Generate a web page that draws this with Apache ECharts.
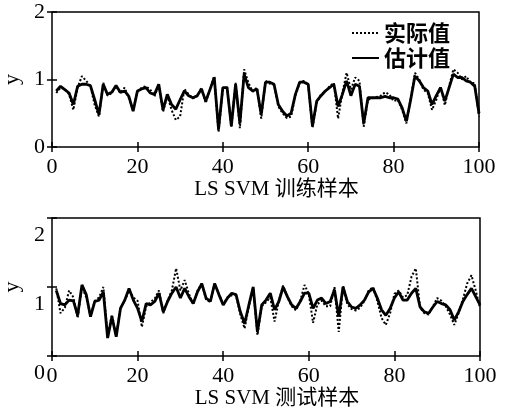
<!DOCTYPE html>
<html>
<head>
<meta charset="utf-8">
<script src="https://cdn.jsdelivr.net/npm/echarts@6/dist/echarts.min.js"></script>
<style>
html, body { margin: 0; padding: 0; background: #fff; }
#chart { width: 509px; height: 417px; }
</style>
</head>
<body>
<div id="chart"></div>
<script>
// 样本序号
const samples = [];
for (let i = 1; i <= 100; i++) samples.push(i);

// 训练样本：实际值 / 估计值
const trainActual = [0.80,0.88,0.86,0.78,0.55,0.88,1.05,0.98,0.90,0.62,
  0.45,0.95,0.76,0.80,0.90,0.80,0.88,0.72,0.55,0.82,
  0.88,0.90,0.85,0.75,0.92,0.52,0.76,0.55,0.40,0.45,
  0.86,0.78,0.72,0.75,0.88,0.65,0.86,1.05,0.22,0.85,
  0.90,0.30,0.95,0.28,1.15,0.95,0.82,0.88,0.42,0.98,
  0.94,0.92,0.60,0.50,0.43,0.45,0.76,0.95,0.98,0.92,
  0.28,0.66,0.78,0.82,0.90,0.95,0.42,0.80,1.10,0.85,
  1.03,0.98,0.30,0.70,0.72,0.74,0.76,0.81,0.78,0.68,
  0.70,0.55,0.35,0.72,1.10,1.00,0.85,0.80,0.55,0.70,
  0.90,0.62,0.90,1.15,1.10,1.00,1.05,0.95,0.95,0.45];
const trainEstimate = [0.83,0.90,0.85,0.80,0.63,0.90,0.93,0.93,0.91,0.70,
  0.48,0.93,0.78,0.81,0.91,0.81,0.83,0.75,0.53,0.83,
  0.86,0.88,0.80,0.78,0.93,0.55,0.78,0.63,0.56,0.70,
  0.83,0.76,0.73,0.76,0.86,0.68,0.85,1.03,0.26,0.88,
  0.88,0.31,0.93,0.35,1.08,0.88,0.83,0.86,0.48,0.96,
  0.96,0.93,0.63,0.53,0.46,0.50,0.78,0.96,0.96,0.93,
  0.31,0.68,0.76,0.83,0.88,0.93,0.60,0.78,0.98,0.76,
  0.93,0.90,0.35,0.73,0.73,0.73,0.73,0.75,0.73,0.73,
  0.71,0.58,0.38,0.70,1.05,0.98,0.88,0.83,0.63,0.76,
  0.88,0.68,0.88,1.08,1.03,1.03,0.98,0.96,0.90,0.50];

// 测试样本：实际值 / 估计值
const testActual = [0.98,0.62,0.70,0.95,0.85,0.55,1.00,0.85,0.58,0.80,
  0.85,1.00,0.30,0.60,0.30,0.70,0.80,0.95,0.85,0.80,
  0.42,0.72,0.78,0.83,0.95,0.62,0.80,0.95,1.27,0.95,
  1.10,0.90,0.75,0.95,1.05,0.82,0.78,1.05,0.90,0.75,
  0.85,0.88,0.88,0.60,0.40,0.72,1.00,0.30,0.72,0.78,
  0.85,0.50,0.80,1.02,0.85,0.72,0.66,0.80,1.03,0.90,
  0.48,0.75,0.80,0.72,0.72,1.00,0.35,1.02,0.75,0.68,
  0.66,0.70,0.80,0.95,1.00,0.80,0.55,0.45,0.62,0.90,
  0.95,0.85,0.88,1.15,1.27,0.70,0.62,0.60,0.72,0.84,
  0.80,0.72,0.60,0.45,0.62,0.82,1.05,1.17,0.95,0.70];
const testEstimate = [0.95,0.76,0.74,0.81,0.80,0.59,1.03,0.89,0.57,0.79,
  0.81,0.93,0.26,0.57,0.28,0.69,0.81,0.98,0.81,0.69,
  0.50,0.76,0.74,0.79,0.91,0.64,0.79,0.91,1.00,0.84,
  0.98,0.86,0.76,0.93,1.05,0.84,0.79,1.05,0.89,0.74,
  0.84,0.91,0.89,0.64,0.47,0.74,1.00,0.35,0.74,0.81,
  0.91,0.67,0.79,1.00,0.86,0.74,0.69,0.79,0.91,0.91,
  0.69,0.81,0.84,0.76,0.79,0.96,0.57,1.00,0.79,0.71,
  0.69,0.74,0.81,0.93,0.98,0.84,0.67,0.59,0.69,0.84,
  0.93,0.81,0.81,0.91,0.98,0.71,0.64,0.62,0.71,0.79,
  0.76,0.74,0.67,0.52,0.64,0.79,0.89,0.98,0.86,0.74];

const seriesNames = ["实际值", "估计值"];
const xTitles = ["LS SVM 训练样本", "LS SVM 测试样本"];

const font = "'Liberation Serif', 'Noto Sans CJK SC', serif";
const black = "#000";

function pairs(vals) {
  return samples.map((s, i) => [s, vals[i]]);
}

function xAxisPair(gi, name) {
  const tick = { show: true, inside: true, length: 5, lineStyle: { color: black, width: 1.5 } };
  return [
    {
      gridIndex: gi, type: "value", min: 0, max: 100, interval: 20,
      axisLine: { show: false }, axisTick: tick, splitLine: { show: false },
      axisLabel: { color: black, fontFamily: font, fontSize: 22, margin: 9 },
      name: name, nameLocation: "middle", nameGap: gi === 0 ? 32 : 29,
      nameTextStyle: { color: black, fontFamily: font, fontSize: 21, padding: [0, 0, 0, 22] },
    },
    {
      gridIndex: gi, type: "value", min: 0, max: 100, interval: 20, position: "top",
      axisLine: { show: false }, axisTick: tick, axisLabel: { show: false }, splitLine: { show: false },
    },
  ];
}

function yAxisPair(gi) {
  const tick = { show: true, inside: true, length: 5, lineStyle: { color: black, width: 1.5 } };
  // 下图的刻度文字在原图中整体偏下
  const label = gi === 0
    ? { color: black, fontFamily: font, fontSize: 22, margin: 7 }
    : { color: black, fontFamily: font, fontSize: 22, margin: 7, verticalAlign: "top", lineHeight: 34 };
  return [
    {
      gridIndex: gi, type: "value", min: 0, max: 2, interval: 1,
      axisLine: { show: false }, axisTick: tick, splitLine: { show: false },
      axisLabel: label,
      name: "y", nameLocation: "middle", nameGap: 29, nameRotate: 90,
      nameTextStyle: { color: black, fontFamily: font, fontSize: 22 },
    },
    {
      gridIndex: gi, type: "value", min: 0, max: 2, interval: 1, position: "right",
      axisLine: { show: false }, axisTick: tick, axisLabel: { show: false }, splitLine: { show: false },
    },
  ];
}

function lineSeries(name, vals, gi, dotted) {
  return {
    name: name, type: "line", data: pairs(vals),
    xAxisIndex: gi * 2, yAxisIndex: gi * 2,
    symbol: "none", showSymbol: false, animation: false,
    lineStyle: { color: black, width: dotted ? 2 : 2.8, type: dotted ? "dotted" : "solid" },
    itemStyle: { color: black },
    z: dotted ? 2 : 3,
  };
}

const chart = echarts.init(document.getElementById("chart"), null, { renderer: "canvas" });
chart.setOption({
  backgroundColor: "#fff",
  animation: false,
  grid: [
    { left: 52, top: 12, width: 427, height: 135, show: true, borderColor: black, borderWidth: 1.5, outerBoundsMode: "none" },
    { left: 52, top: 218, width: 428, height: 138, show: true, borderColor: black, borderWidth: 1.5, outerBoundsMode: "none" },
  ],
  legend: {
    orient: "vertical", left: 346, top: 17,
    itemWidth: 27, itemHeight: 14, itemGap: 3,
    data: seriesNames,
    itemStyle: { opacity: 0 },
    textStyle: { color: black, fontFamily: "'Noto Sans CJK SC', sans-serif", fontSize: 22, fontWeight: "bold", lineHeight: 22 },
  },
  xAxis: [...xAxisPair(0, xTitles[0]), ...xAxisPair(1, xTitles[1])],
  yAxis: [...yAxisPair(0), ...yAxisPair(1)],
  series: [
    lineSeries(seriesNames[0], trainActual, 0, true),
    lineSeries(seriesNames[1], trainEstimate, 0, false),
    lineSeries(seriesNames[0], testActual, 1, true),
    lineSeries(seriesNames[1], testEstimate, 1, false),
  ],
});
</script>
</body>
</html>
